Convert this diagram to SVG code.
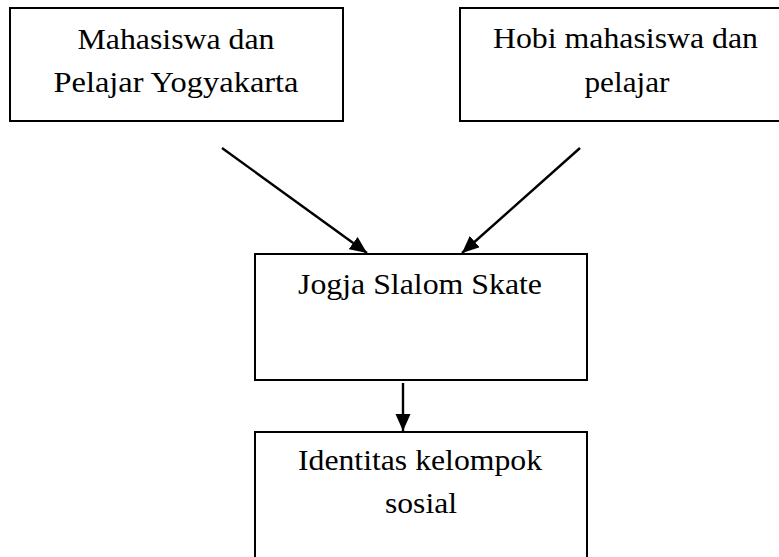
<svg xmlns="http://www.w3.org/2000/svg" width="779" height="557" viewBox="0 0 779 557">
<style>
.box{fill:#fff;stroke:#000;stroke-width:2}
.lbl{font-family:'Liberation Serif','Times New Roman',serif;font-size:30px;fill:#000;text-anchor:middle}
.conn{stroke:#000;stroke-width:2.4;fill:none;marker-end:url(#ah)}
</style>
<defs>
<marker id="ah" markerUnits="userSpaceOnUse" markerWidth="18" markerHeight="16" refX="17" refY="7.5" orient="auto">
<path d="M0,0 L17,7.5 L0,15 z" fill="#000"/>
</marker>
</defs>
<rect width="779" height="557" fill="#fff"/>
<g id="node-mahasiswa">
<rect class="box" x="10" y="8" width="333" height="113"/>
<text class="lbl" x="176" y="49" textLength="197" lengthAdjust="spacingAndGlyphs">Mahasiswa dan</text>
<text class="lbl" x="176" y="92" textLength="245" lengthAdjust="spacingAndGlyphs">Pelajar Yogyakarta</text>
</g>
<g id="node-hobi">
<rect class="box" x="460" y="8" width="330" height="113"/>
<text class="lbl" x="625.5" y="48" textLength="265" lengthAdjust="spacingAndGlyphs">Hobi mahasiswa dan</text>
<text class="lbl" x="627" y="92" textLength="85" lengthAdjust="spacingAndGlyphs">pelajar</text>
</g>
<g id="node-jogja">
<rect class="box" x="255" y="254" width="332" height="126"/>
<text class="lbl" x="420" y="294" textLength="244" lengthAdjust="spacingAndGlyphs">Jogja Slalom Skate</text>
</g>
<g id="node-identitas">
<rect class="box" x="255" y="432" width="332" height="140"/>
<text class="lbl" x="420" y="470" textLength="244" lengthAdjust="spacingAndGlyphs">Identitas kelompok</text>
<text class="lbl" x="421" y="513" textLength="72" lengthAdjust="spacingAndGlyphs">sosial</text>
</g>
<g id="connectors">
<line class="conn" x1="222" y1="148" x2="367" y2="253"/>
<line class="conn" x1="580" y1="148" x2="462" y2="253"/>
<line class="conn" x1="403" y1="383" x2="403" y2="431"/>
</g>
</svg>
